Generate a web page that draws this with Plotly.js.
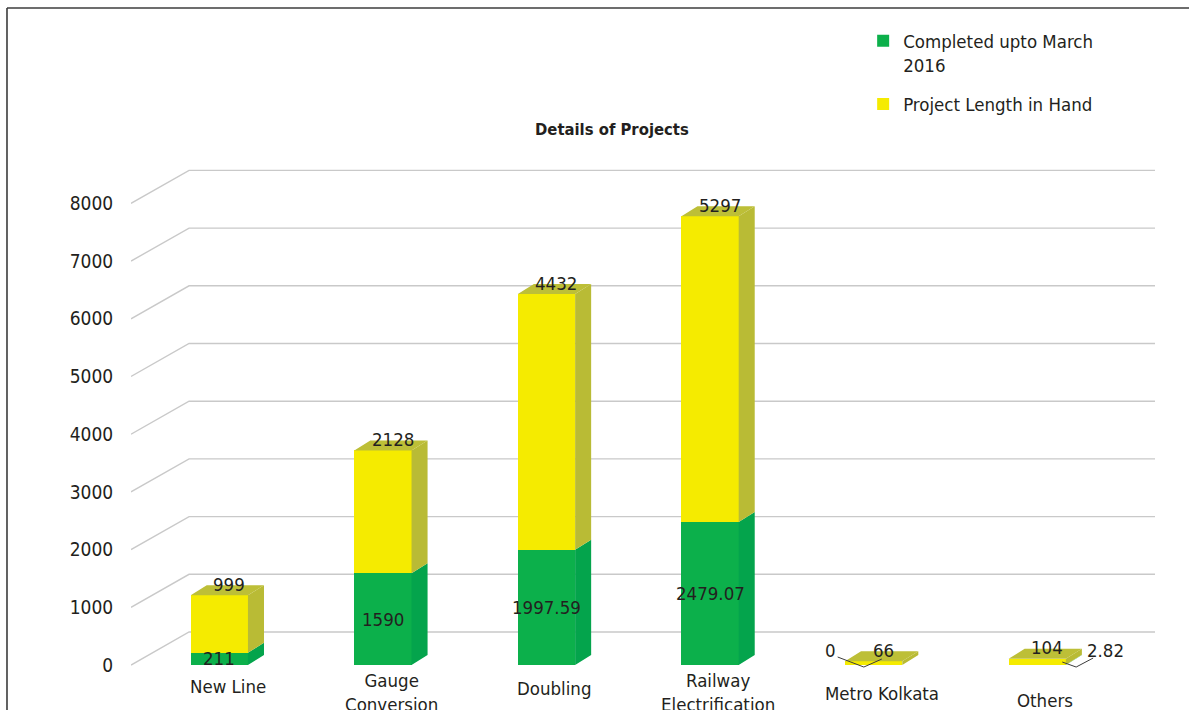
<!DOCTYPE html>
<html>
<head>
<meta charset="utf-8">
<script src="https://cdn.plot.ly/plotly-3.0.1.min.js"></script>
<style>
  html, body { margin: 0; padding: 0; background: #ffffff; }
  #chart { width: 1189px; height: 710px; }
</style>
</head>
<body>
<div id="chart"></div>
<script>
// Project lengths (km) by category
const categories = ['New Line', 'Gauge<br>Conversion', 'Doubling', 'Railway<br>Electrification', 'Metro Kolkata', 'Others'];
const completed = [211, 1590, 1997.59, 2479.07, 0, 2.82];
const inHand = [999, 2128, 4432, 5297, 66, 104];
const yTicks = [0, 1000, 2000, 3000, 4000, 5000, 6000, 7000, 8000];
const seriesNames = ['Completed upto March<br>2016', 'Project Length in Hand'];
const chartTitle = 'Details of Projects';

// Styling / pseudo-3D geometry (category units on x, value units on y)
const FONT = '"Liberation Sans Narrow", "Arial Narrow", "DejaVu Sans Condensed", sans-serif';
const TEXT = '#231f20';
const GREEN = '#0cb04b', GREEN_SIDE = '#04a44c', GREEN_TOP = '#07a94c';
const YELLOW = '#f5eb00', YELLOW_SIDE = '#b9bb35', YELLOW_TOP = '#bdbf37';
const BAR_W = 0.35;      // front face width
const DX = 0.098;        // depth offset along x
const DY = 173;          // depth offset along y
const WALL_X0 = -0.54, WALL_X1 = -0.185, WALL_RISE = 572;
const X_RANGE = [-0.54, 5.72];
const Y_RANGE = [-121, 8752];
const LABEL_SIZE = 18.5;

const xs = categories.map((_, i) => i);
const totals = completed.map((g, i) => g + inHand[i]);

// Parallelogram helpers, returned as closed polygons separated by nulls
function sideFace(i, y0, y1) {
  const a = i + BAR_W / 2, b = a + DX;
  return [[a, y0], [b, y0 + DY], [b, y1 + DY], [a, y1], [a, y0]];
}
function topFace(i, t) {
  const l = i - BAR_W / 2, r = i + BAR_W / 2;
  return [[l, t], [l + DX, t + DY], [r + DX, t + DY], [r, t], [l, t]];
}
function polyTrace(polys, color) {
  const x = [], y = [];
  polys.forEach(p => { p.forEach(pt => { x.push(pt[0]); y.push(pt[1]); }); x.push(null); y.push(null); });
  return { type: 'scatter', mode: 'none', x, y, fill: 'toself', fillcolor: color,
           showlegend: false, hoverinfo: 'skip' };
}

const greenSides = [], yellowSides = [], yellowTops = [], greenTops = [];
xs.forEach(i => {
  if (completed[i] > 0) greenSides.push(sideFace(i, 0, completed[i]));
  if (inHand[i] > 0) {
    yellowSides.push(sideFace(i, completed[i], totals[i]));
    yellowTops.push(topFace(i, totals[i]));
  } else if (completed[i] > 0) {
    greenTops.push(topFace(i, completed[i]));
  }
});

const traces = [
  { type: 'bar', name: seriesNames[0], legendgroup: 'done', x: xs, y: completed, width: BAR_W,
    marker: { color: GREEN, line: { width: 0 } }, hoverinfo: 'skip' },
  { type: 'bar', name: seriesNames[1], legendgroup: 'hand', x: xs, y: inHand, width: BAR_W,
    marker: { color: YELLOW, line: { width: 0 } }, hoverinfo: 'skip' },
  polyTrace(greenSides, GREEN_SIDE),
  polyTrace(greenTops, GREEN_TOP),
  polyTrace(yellowSides, YELLOW_SIDE),
  polyTrace(yellowTops, YELLOW_TOP)
];

// Gridlines: a slanted segment on the side wall, then flat along the back wall
const shapes = yTicks.map(v => ({
  type: 'path', xref: 'x', yref: 'y', layer: 'below',
  path: `M ${WALL_X0},${v} L ${WALL_X1},${v + WALL_RISE} L ${X_RANGE[1]},${v + WALL_RISE}`,
  line: { color: '#c9c9c9', width: 1.4 }
}));

// Outer frame (top and left edges)
shapes.push({ type: 'line', xref: 'paper', yref: 'paper', x0: -0.1211, x1: -0.1211, y0: -0.2, y1: 1.297,
              line: { color: '#3c3c3c', width: 1.6 } });
shapes.push({ type: 'line', xref: 'paper', yref: 'paper', x0: -0.1211, x1: 1.2, y0: 1.297, y1: 1.297,
              line: { color: '#3c3c3c', width: 1.6 } });

const labelFont = { family: FONT, size: LABEL_SIZE, color: TEXT };
const annotations = [];

// Chart title
annotations.push({ xref: 'paper', yref: 'paper', x: 0.47, y: 1.059, xanchor: 'center', yanchor: 'middle',
  text: '<b>' + chartTitle + '</b>', showarrow: false, font: { family: FONT, size: 16.5, color: TEXT } });

// Category labels under each bar
const labelDrop = [0, -6, 2, -6, 7, 14];
xs.forEach(i => {
  annotations.push({ x: i + 0.05, y: 0, xref: 'x', yref: 'y', text: categories[i], showarrow: false,
    xanchor: 'center', yanchor: 'top', yshift: -9 - labelDrop[i], font: labelFont, align: 'center' });
});

// Value labels for the yellow segments, sitting on the bar tops
xs.forEach(i => {
  annotations.push({ x: i + 0.06, y: totals[i], xref: 'x', yref: 'y', text: String(inHand[i]),
    showarrow: false, xanchor: 'center', yanchor: 'middle', yshift: 11, font: labelFont });
});

// Value labels for the green segments; very thin ones get a callout
const calloutSide = { 4: 'left', 5: 'right' };
xs.forEach(i => {
  const g = completed[i];
  const side = calloutSide[i];
  if (!side) {
    annotations.push({ x: i, y: g / 2, xref: 'x', yref: 'y', text: String(g),
      showarrow: false, xanchor: 'center', yanchor: 'middle', font: labelFont });
  } else if (side === 'left') {
    annotations.push({ x: i - 0.22, y: 260, xref: 'x', yref: 'y', text: String(g),
      showarrow: false, xanchor: 'right', yanchor: 'middle', font: labelFont });
    shapes.push({ type: 'path', xref: 'x', yref: 'y', layer: 'above',
      path: `M ${i - 0.22},139 L ${i - 0.06},-35 L ${i + 0.05},104`,
      line: { color: '#3c3c3c', width: 1 } });
  } else {
    annotations.push({ x: i + 0.29, y: 260, xref: 'x', yref: 'y', text: String(g),
      showarrow: false, xanchor: 'left', yanchor: 'middle', font: labelFont });
    shapes.push({ type: 'path', xref: 'x', yref: 'y', layer: 'above',
      path: `M ${i + 0.153},52 L ${i + 0.238},-35 L ${i + 0.342},121`,
      line: { color: '#3c3c3c', width: 1 } });
  }
});

const layout = {
  width: 1189, height: 710,
  margin: { l: 131, r: 34, t: 160, b: 38, pad: 0 },
  paper_bgcolor: '#ffffff', plot_bgcolor: 'rgba(0,0,0,0)',
  font: { family: FONT, color: TEXT, size: LABEL_SIZE },
  barmode: 'stack', bargap: 0,
  hovermode: false,
  xaxis: { range: X_RANGE, showgrid: false, zeroline: false, showline: false,
           showticklabels: false, ticks: '', fixedrange: true },
  yaxis: { range: Y_RANGE, tickvals: yTicks, ticktext: yTicks.map(String),
           showgrid: false, zeroline: false, showline: false,
           ticks: 'outside', ticklen: 13, tickcolor: 'rgba(0,0,0,0)',
           tickfont: { family: FONT, size: 19, color: TEXT }, fixedrange: true },
  legend: { x: 0.715, y: 1.269, xref: 'paper', yref: 'paper', xanchor: 'left', yanchor: 'top',
            traceorder: 'grouped', tracegroupgap: 12, valign: 'top', bgcolor: 'rgba(0,0,0,0)',
            font: { family: FONT, size: LABEL_SIZE, color: TEXT }, itemclick: false, itemdoubleclick: false },
  shapes, annotations
};

Plotly.newPlot('chart', traces, layout, { displayModeBar: false, staticPlot: true });
</script>
</body>
</html>
